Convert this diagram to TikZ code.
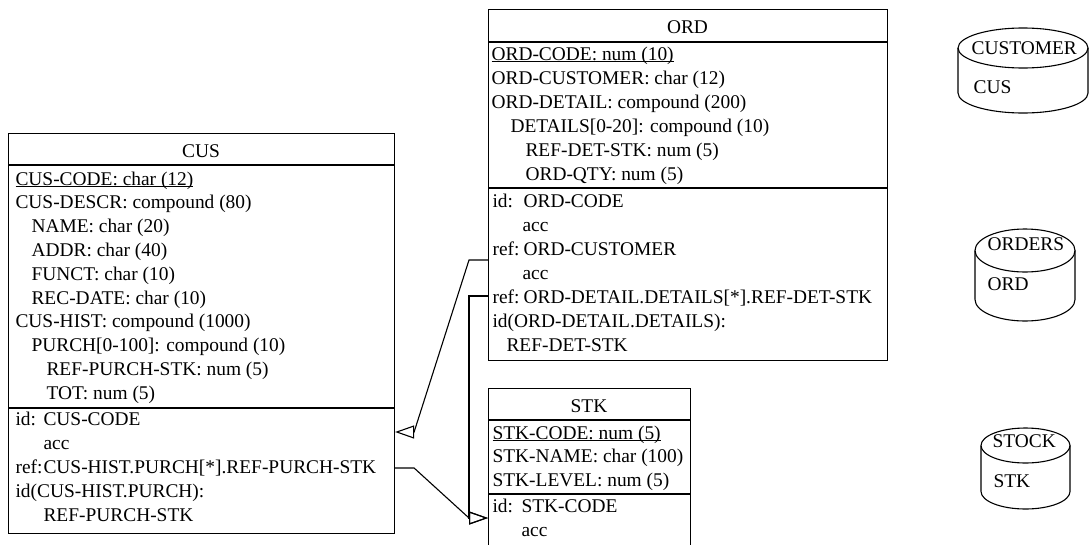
\documentclass[tikz,border=0pt]{standalone}
\usepackage{fontspec}
\setmainfont{Liberation Serif}
\usetikzlibrary{arrows.meta}
\newcommand{\kwd}[2][28pt]{\makebox[#1][l]{#2}}
\newcommand{\keyul}[1]{\underline{\smash{#1}}}
\begin{document}
\begin{tikzpicture}[x=1pt,y=-1pt,line width=1.1pt,
  font=\fontsize{19.4}{24}\selectfont,
  t/.style={anchor=base west,inner sep=0pt},
  ttl/.style={anchor=base,inner sep=0pt},
  entity/.style={draw,anchor=north west,inner sep=0pt,minimum width=#1},
  conn/.style={-{Triangle[open,length=19pt,width=13pt]},line join=miter}]
\useasboundingbox (0,0) rectangle (1089,544);
\clip (0,0) rectangle (1089,544);

% ---------------- CUS
\node[entity=386pt,minimum height=400pt] (cus) at (8,133) {};
\draw (cus.west |- 0,165) -- (cus.east |- 0,165);
\draw (cus.west |- 0,408) -- (cus.east |- 0,408);
\node[ttl] (cust) at (201,157) {CUS};
\node[t] (cusa0) at (15,185) {\keyul{CUS-CODE: char (12)}};
\node[t] (cusa1) at (15,208.8) {CUS-DESCR: compound (80)};
\node[t] (cusa2) at (31,232.6) {NAME: char (20)};
\node[t] (cusa3) at (31,256.4) {ADDR: char (40)};
\node[t] (cusa4) at (31,280.2) {FUNCT: char (10)};
\node[t] (cusa5) at (31,304) {REC-DATE: char (10)};
\node[t] (cusa6) at (15,327.8) {CUS-HIST: compound (1000)};
\node[t] (cusa7) at (31,351.6) {PURCH[0-100]: compound (10)};
\node[t] (cusa8) at (46,375.4) {REF-PURCH-STK: num (5)};
\node[t] (cusa9) at (46,399.2) {TOT: num (5)};
\node[t] (cusk0) at (15,425) {\kwd{id:}CUS-CODE};
\node[t] (cusk1) at (43,449) {acc};
\node[t] (cusk2) at (15,473) {\kwd{ref:}CUS-HIST.PURCH[*].REF-PURCH-STK};
\node[t] (cusk3) at (15,497) {id(CUS-HIST.PURCH):};
\node[t] (cusk4) at (43,521) {REF-PURCH-STK};

% ---------------- ORD
\node[entity=399pt,minimum height=351pt] (ord) at (488,9) {};
\draw (ord.west |- 0,42) -- (ord.east |- 0,42);
\draw (ord.west |- 0,188) -- (ord.east |- 0,188);
\node[ttl] (ordt) at (687.5,33) {ORD};
\node[t] (orda0) at (491,60) {\keyul{ORD-CODE: num (10)}};
\node[t] (orda1) at (491,84) {ORD-CUSTOMER: char (12)};
\node[t] (orda2) at (491,108) {ORD-DETAIL: compound (200)};
\node[t] (orda3) at (510,132) {DETAILS[0-20]: compound (10)};
\node[t] (orda4) at (525,156) {REF-DET-STK: num (5)};
\node[t] (orda5) at (525,180) {ORD-QTY: num (5)};
\node[t] (ordk0) at (492,207) {\kwd[31pt]{id:}ORD-CODE};
\node[t] (ordk1) at (522,231) {acc};
\node[t] (ordk2) at (492,255) {\kwd[31pt]{ref:}ORD-CUSTOMER};
\node[t] (ordk3) at (522,279) {acc};
\node[t] (ordk4) at (492,303) {\kwd[31pt]{ref:}ORD-DETAIL.DETAILS[*].REF-DET-STK};
\node[t] (ordk5) at (492,327) {id(ORD-DETAIL.DETAILS):};
\node[t] (ordk6) at (506,351) {REF-DET-STK};

% ---------------- STK
\node[entity=202pt,minimum height=200pt] (stk) at (488,388) {};
\draw (stk.west |- 0,420) -- (stk.east |- 0,420);
\draw (stk.west |- 0,494) -- (stk.east |- 0,494);
\node[ttl] (stkt) at (589,412) {STK};
\node[t] (stka0) at (492,439) {\keyul{STK-CODE: num (5)}};
\node[t] (stka1) at (492,462.5) {STK-NAME: char (100)};
\node[t] (stka2) at (492,486) {STK-LEVEL: num (5)};
\node[t] (stkk0) at (492,512) {\kwd[29pt]{id:}STK-CODE};
\node[t] (stkk1) at (521,536) {acc};

% ---------------- connectors
\coordinate (o1) at (ord.west |- 0,260);
\coordinate (o2) at (ord.west |- 0,296);
\coordinate (c1) at (cus.east |- 0,432);
\coordinate (c2) at (cus.east |- 0,468);
\coordinate (s1) at (stk.west |- 0,518);
\draw[conn] (o1) -- ++(-19,0) -- ([xshift=19pt]c1) -- (c1);
\draw[conn] (o2) -| ([xshift=-19pt]s1) -- (s1);
\draw[conn] (c2) -- ++(19,0) -- ([xshift=-19pt]s1) -- (s1);

% ---------------- cylinders
% CUSTOMER
\draw (1023,48) ellipse [x radius=65pt,y radius=20pt];
\draw (958,48) -- (958,93) arc[start angle=180,end angle=360,x radius=65pt,y radius=20pt] -- (1088,48);
\node[t] (cylcus1) at (971,54) {CUSTOMER};
\node[t] (cylcus2) at (973,93) {CUS};
% ORDERS
\draw (1025,250.5) ellipse [x radius=50pt,y radius=21.5pt];
\draw (975,250.5) -- (975,299.5) arc[start angle=180,end angle=360,x radius=50pt,y radius=21.5pt] -- (1075,250.5);
\node[t] (cylord1) at (987,250) {ORDERS};
\node[t] (cylord2) at (987,290) {ORD};
% STOCK
\draw (1025.5,445.5) ellipse [x radius=44.5pt,y radius=17.5pt];
\draw (981,445.5) -- (981,491.5) arc[start angle=180,end angle=360,x radius=44.5pt,y radius=17.5pt] -- (1070,445.5);
\node[t] (cylstk1) at (992,447) {STOCK};
\node[t] (cylstk2) at (993,487) {STK};
\end{tikzpicture}
\end{document}
